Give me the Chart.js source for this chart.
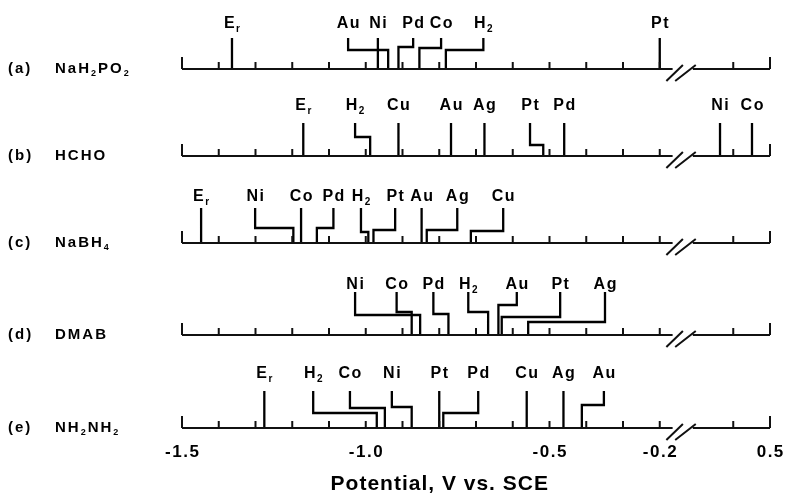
<!DOCTYPE html>
<html>
<head>
<meta charset="utf-8">
<script src="https://cdn.jsdelivr.net/npm/chart.js@4.4.0/dist/chart.umd.min.js"></script>
<style>
  html, body { margin: 0; padding: 0; background: #fff; }
  #grafica { display: block; }
</style>
</head>
<body>
<canvas id="grafica" width="785" height="498"></canvas>
<script>
// REDUCTORES (una fila por cada uno)
const rowTags = ['(a)', '(b)', '(c)', '(d)', '(e)'];
const reducers = ['NaH_2PO_2', 'HCHO', 'NaBH_4', 'DMAB', 'NH_2NH_2'];

// POTENCIALES (V vs. SCE) de cada electrodo, fila por fila
const namesA = ['E_r', 'Au', 'Ni', 'Pd', 'Co', 'H_2', 'Pt'];
const potA   = [-1.364, -0.939, -0.967, -0.911, -0.854, -0.782, -0.2];

const namesB = ['E_r', 'H_2', 'Cu', 'Au', 'Ag', 'Pt', 'Pd', 'Ni', 'Co'];
const potB   = [-1.170, -0.988, -0.911, -0.768, -0.677, -0.517, -0.460, 0.364, 0.451];

const namesC = ['E_r', 'Ni', 'Co', 'Pd', 'H_2', 'Pt', 'Au', 'Ag', 'Cu'];
const potC   = [-1.448, -1.197, -1.176, -1.133, -0.993, -0.979, -0.848, -0.834, -0.714];

const namesD = ['Ni', 'Co', 'Pd', 'H_2', 'Au', 'Pt', 'Ag'];
const potD   = [-0.852, -0.875, -0.775, -0.667, -0.639, -0.630, -0.558];

const namesE = ['E_r', 'H_2', 'Co', 'Ni', 'Pt', 'Pd', 'Cu', 'Ag', 'Au'];
const potE   = [-1.276, -0.970, -0.948, -0.875, -0.800, -0.789, -0.562, -0.462, -0.412];

// Etiquetas del eje de potencial
const tickValues = [-1.5, -1.0, -0.5, -0.2, 0.5];
const tickLabels = ['-1.5', '-1.0', '-0.5', '-0.2', '0.5'];
const axisTitle = 'Potential, V vs. SCE';

// DISEÑO: donde empieza la linea de cada etiqueta (null = recta) y altura del codo en px
const leadA  = [null, -1.048, null, -0.871, -0.795, -0.680, null];
const elbowA = [0, 19, 0, 22, 21, 19, 0];
const leadB  = [null, -1.029, null, null, null, -0.553, null, null, null];
const elbowB = [0, 19, 0, 0, 0, 11, 0, 0, 0];
const leadC  = [null, -1.301, null, -1.088, -1.013, -0.920, null, -0.751, -0.626];
const elbowC = [0, 15, 0, 15, 11, 13, 0, 13, 12];
const leadD  = [-1.029, -0.916, -0.816, -0.721, -0.589, -0.471, -0.349];
const elbowD = [20, 23, 21, 23, 30, 18, 13];
const leadE  = [null, -1.143, -1.043, -0.929, null, -0.694, null, null, -0.352];
const elbowE = [0, 15, 20, 21, 0, 15, 0, 0, 23];

// posicion vertical de cada eje y de sus marcas
const axisY = [69, 156, 243, 335, 428];
const stemUp = [31, 33, 35, 43, 37];
const labelUp = [47, 52, 48, 52, 56];

const rows = [
	{ names: namesA, pot: potA, lead: leadA, elbow: elbowA },
	{ names: namesB, pot: potB, lead: leadB, elbow: elbowB },
	{ names: namesC, pot: potC, lead: leadC, elbow: elbowC },
	{ names: namesD, pot: potD, lead: leadD, elbow: elbowD },
	{ names: namesE, pot: potE, lead: leadE, elbow: elbowE }
];

// El eje esta cortado entre -0.2 y 0.3 V (el hueco ocupa 0.1 V)
function toAxis(v) {
	if (v <= -0.2) return v;
	if (v >= 0.3) return v - 0.4;
	return -0.2 + (v + 0.2) * 0.2;
}

// Se arman los segmentos del eje: linea base, marcas cada 0.1 V y el corte //
let axisPts = [];
const gap = () => axisPts.push({ x: 0, y: null });
axisY.forEach(function (Y) {
	axisPts.push({ x: -1.5, y: Y }, { x: -0.165, y: Y }); gap();
	axisPts.push({ x: -0.11, y: Y }, { x: 0.1, y: Y }); gap();
	for (let k = 0; k <= 16; k++) {
		if (k === 14) continue; // aqui va el corte
		let u = Math.round((-1.5 + k * 0.1) * 10) / 10;
		let h = (k === 0 || k === 16) ? 12 : 7;
		axisPts.push({ x: u, y: Y }, { x: u, y: Y - h }); gap();
	}
	axisPts.push({ x: -0.182, y: Y + 12 }, { x: -0.137, y: Y - 4 }); gap();
	axisPts.push({ x: -0.158, y: Y + 12 }, { x: -0.102, y: Y - 4 }); gap();
});

// Se arman las lineas de cada electrodo (rectas o con codo)
let markPts = [];
rows.forEach(function (r, i) {
	const Y = axisY[i];
	r.pot.forEach(function (v, j) {
		const u = toAxis(v);
		if (r.lead[j] === null) {
			markPts.push({ x: u, y: Y - stemUp[i] }, { x: u, y: Y });
		} else {
			const l = toAxis(r.lead[j]);
			markPts.push({ x: l, y: Y - stemUp[i] }, { x: l, y: Y - r.elbow[j] },
				{ x: u, y: Y - r.elbow[j] }, { x: u, y: Y });
		}
		markPts.push({ x: 0, y: null });
	});
});

// Texto con subindices: "_x" baja el caracter x
function drawRich(ctx, text, x, y, size, align, spacing) {
	let parts = [];
	for (let i = 0; i < text.length; i++) {
		if (text[i] === '_' && i + 1 < text.length) { parts.push([text[i + 1], true]); i++; }
		else parts.push([text[i], false]);
	}
	const font = s => 'bold ' + s + 'px "Liberation Sans", Arial, sans-serif';
	let total = 0;
	const widths = parts.map(function (p) {
		ctx.font = font(p[1] ? Math.round(size * 0.6) : size);
		const w = ctx.measureText(p[0]).width;
		total += w;
		return w;
	});
	total += spacing * (parts.length - 1);
	let cx = align === 'center' ? x - total / 2 : x;
	parts.forEach(function (p, k) {
		ctx.font = font(p[1] ? Math.round(size * 0.6) : size);
		ctx.fillText(p[0], cx, p[1] ? y + size * 0.22 : y);
		cx += widths[k] + spacing;
	});
}

const textos = {
	id: 'textos',
	afterDatasetsDraw(chart) {
		const ctx = chart.ctx;
		const xs = chart.scales.x, ys = chart.scales.y;
		ctx.save();
		ctx.fillStyle = '#000';
		ctx.textAlign = 'left';
		ctx.textBaseline = 'alphabetic';
		rows.forEach(function (r, i) {
			const Y = ys.getPixelForValue(axisY[i]);
			drawRich(ctx, rowTags[i], 8, Y + 4, 15, 'left', 2);
			drawRich(ctx, reducers[i], 55, Y + 4, 15, 'left', 2);
			r.names.forEach(function (n, j) {
				const at = r.lead[j] === null ? r.pot[j] : r.lead[j];
				const px = xs.getPixelForValue(toAxis(at));
				drawRich(ctx, n, px, ys.getPixelForValue(axisY[i] - labelUp[i]) + 6, 16, 'center', 1.5);
			});
		});
		tickValues.forEach(function (v, k) {
			drawRich(ctx, tickLabels[k], xs.getPixelForValue(toAxis(v)), 457, 17, 'center', 1.5);
		});
		// el titulo queda centrado bajo la parte sin corte del eje
		drawRich(ctx, axisTitle, xs.getPixelForValue(-0.80), 490, 21, 'center', 1);
		ctx.restore();
	}
};

const ctx = document.getElementById('grafica');
let grafica = new Chart(ctx, {
	type: 'line',
	data: {
		datasets: [
			{ data: axisPts, borderColor: '#111', borderWidth: 2, pointRadius: 0, spanGaps: false, clip: false },
			{ data: markPts, borderColor: '#000', borderWidth: 2.3, pointRadius: 0, spanGaps: false, clip: false }
		]
	},
	options: {
		responsive: false,
		animation: false,
		devicePixelRatio: 1,
		layout: { padding: { left: 182, right: 15, top: 0, bottom: 0 } },
		scales: {
			x: { type: 'linear', min: -1.5, max: 0.1, display: false },
			y: { type: 'linear', min: 0, max: 498, reverse: true, display: false }
		},
		plugins: { legend: { display: false }, tooltip: { enabled: false } }
	},
	plugins: [textos]
});
</script>
</body>
</html>
